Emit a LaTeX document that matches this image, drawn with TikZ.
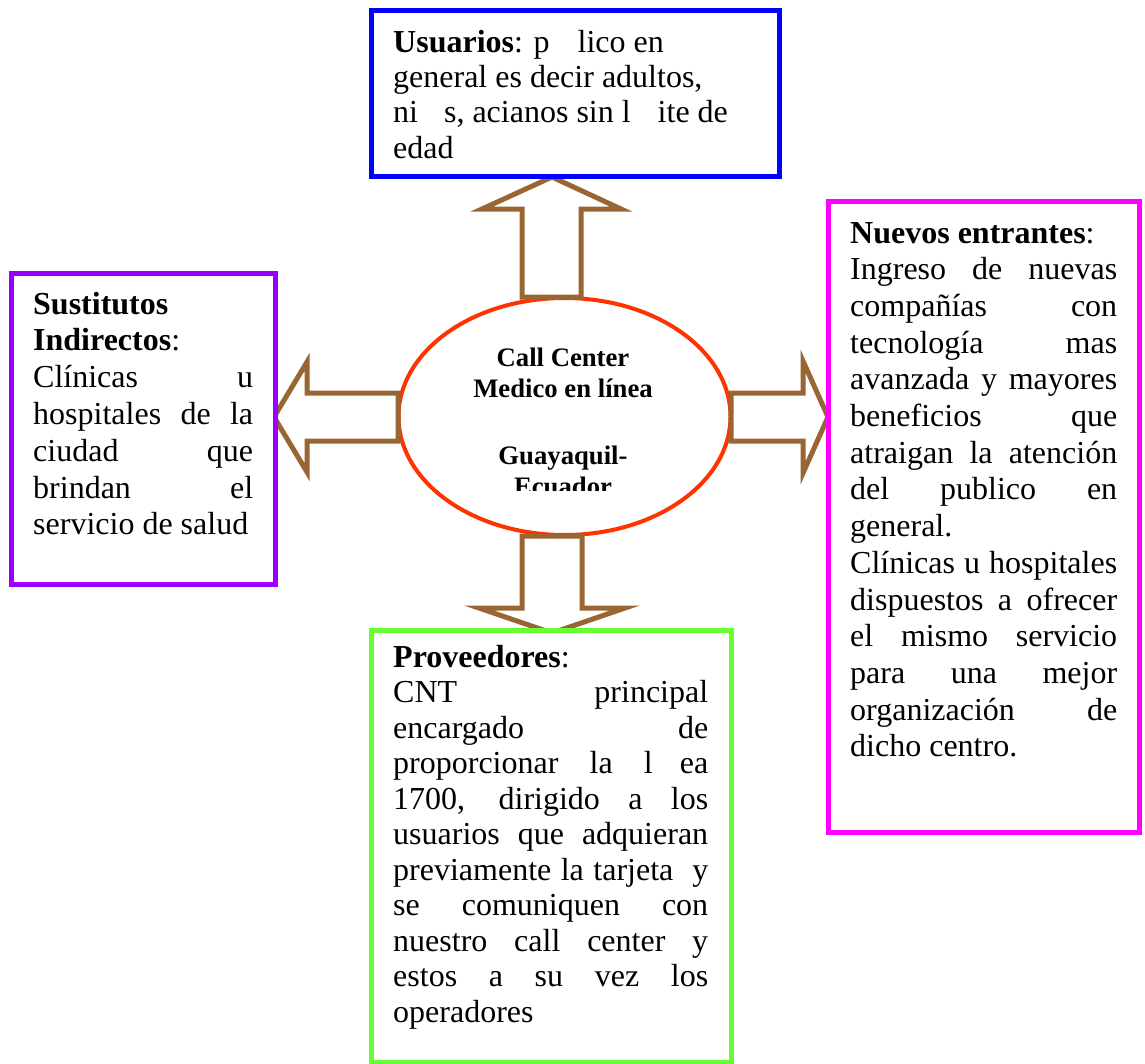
\documentclass[tikz,border=0pt]{standalone}
\usepackage{fontspec}
\setmainfont{Liberation Serif}
\usetikzlibrary{shapes.geometric}

\definecolor{userblue}{HTML}{0000FF}
\definecolor{subpurple}{HTML}{9900FF}
\definecolor{newmagenta}{HTML}{FF00FF}
\definecolor{provgreen}{HTML}{66FF33}
\definecolor{hubred}{HTML}{FF3300}
\definecolor{arrowbrown}{HTML}{996633}

% A block of text lines: #1 width of a justified line, #2 baseline distance.
% \Jline stretches its spaces to the full width, \Lline stays ragged.
\newcommand\txtblock[3]{\vtop{\baselineskip=#2\lineskiplimit=-100pt\lineskip=0pt
  \def\Jline##1{\hbox to #1{##1}}\def\Lline##1{\hbox{##1}}#3}}

\tikzset{
  frame/.style={line width=5pt, fill=white},
  blockarrow/.style={draw=arrowbrown, line width=5pt, fill=white, line join=miter},
  body/.style={inner sep=0pt, anchor=base west, font=\fontsize{32}{36.8}\selectfont},
}

\begin{document}
\begin{tikzpicture}[x=1pt, y=-1pt]
\useasboundingbox (0,0) rectangle (1145,1063);
\fill[white] (0,0) rectangle (1145,1063);

% central ellipse
\node[draw=hubred, line width=4pt, fill=white, ellipse, inner sep=0pt,
      minimum width=332pt, minimum height=237pt] (hub) at (564.5,416.5) {};
\begin{scope}
  \clip (400,320) rectangle (730,490);
  \node[anchor=base, inner sep=0pt, font=\bfseries\fontsize{26.7}{31}\selectfont] (hubtext) at (563,366)
    {\vtop{\baselineskip=31pt
      \hbox to 300pt{\hss Call Center\hss}
      \hbox to 300pt{\hss Medico en línea\hss}
      \vskip 36pt
      \hbox to 300pt{\hss Guayaquil-\hss}
      \hbox to 300pt{\hss Ecuador\hss}}};
\end{scope}

% block arrows pointing out of the centre
\draw[blockarrow] (552,177) -- (621,209) -- (581,209) -- (581,297) -- (522,297) -- (522,209) -- (482,209) -- cycle;
\draw[blockarrow] (274,417) -- (307,362) -- (307,393) -- (398,393) -- (398,441) -- (307,441) -- (307,472) -- cycle;
\draw[blockarrow] (828,417) -- (803,361) -- (803,393) -- (731,393) -- (731,441) -- (803,441) -- (803,473) -- cycle;
\draw[blockarrow] (522,536) -- (582,536) -- (582,608) -- (625,608) -- (552,633) -- (479,608) -- (522,608) -- cycle;

% frames
\draw[frame, draw=userblue] (371.5,10) rectangle (779.5,176);
\draw[frame, draw=subpurple] (11.5,273) rectangle (275.5,584);
\draw[frame, draw=newmagenta] (828.5,201.5) rectangle (1139,832);
\draw[frame, draw=provgreen] (371.5,630) rectangle (731.5,1062.5);

% texts
\node[body] (usuarios) at (393,52) {\txtblock{380pt}{35.4pt}{%
  \Lline{\textbf{Usuarios}: p\hspace{28pt}lico en}
  \Lline{general es decir adultos,}
  \Lline{ni\hspace{26pt}s, acianos sin l\hspace{27pt}ite de}
  \Lline{edad}}};

\node[body] (sustitutos) at (33,314) {\txtblock{220pt}{36.8pt}{%
  \Lline{\textbf{Sustitutos}}
  \Lline{\textbf{Indirectos}:}
  \Jline{Clínicas u}
  \Jline{hospitales de la}
  \Jline{ciudad que}
  \Jline{brindan el}
  \Lline{servicio de salud}}};

\node[body] (nuevos) at (850,243) {\txtblock{267pt}{36.7pt}{%
  \Lline{\textbf{Nuevos entrantes}:}
  \Jline{Ingreso de nuevas}
  \Jline{compañías con}
  \Jline{tecnología mas}
  \Jline{avanzada y mayores}
  \Jline{beneficios que}
  \Jline{atraigan la atención}
  \Jline{del publico en}
  \Lline{general.}
  \Jline{Clínicas u hospitales}
  \Jline{dispuestos a ofrecer}
  \Jline{el mismo servicio}
  \Jline{para una mejor}
  \Jline{organización de}
  \Lline{dicho centro.}}};

\node[body] (proveedores) at (393,667) {\txtblock{315pt}{35.5pt}{%
  \Lline{\textbf{Proveedores}:}
  \Jline{CNT principal}
  \Jline{encargado de}
  \Jline{proporcionar la l\hspace{27pt}ea}
  \Jline{1700, dirigido a los}
  \Jline{usuarios que adquieran}
  \Jline{previamente la tarjeta\ \ y}
  \Jline{se comuniquen con}
  \Jline{nuestro call center y}
  \Jline{estos a su vez los}
  \Lline{operadores}}};
\end{tikzpicture}
\end{document}
